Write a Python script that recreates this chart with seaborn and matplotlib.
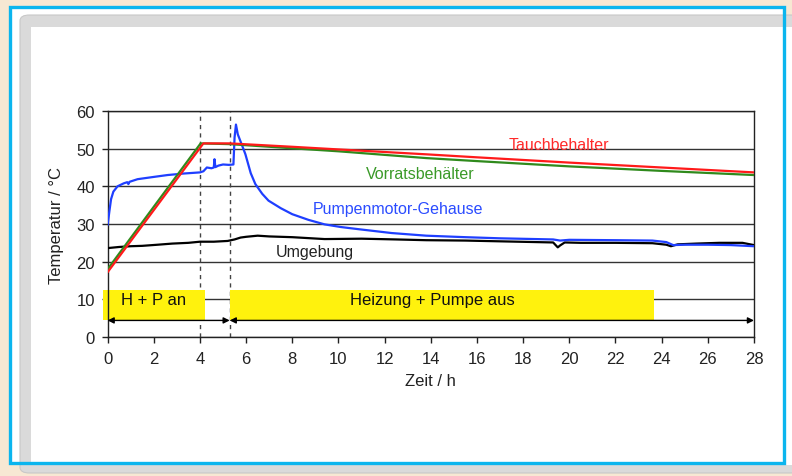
import matplotlib
matplotlib.use("Agg")
import matplotlib.pyplot as plt
import seaborn as sns
from matplotlib.patches import Rectangle, FancyBboxPatch

t_tauch = [0, 4.15, 5.3, 8, 10, 13.8, 16, 20, 24, 28]
v_tauch = [17.2, 51.4, 51.4, 50.5, 49.8, 48.5, 47.7, 46.3, 45.0, 43.7]

t_vorrat = [0, 4.03, 5.3, 8, 10, 13.8, 16, 20, 24, 28]
v_vorrat = [18.0, 51.4, 51.2, 50.1, 49.3, 47.5, 46.7, 45.3, 44.1, 43.0]

t_pumpe = [0, 0.08, 0.15, 0.25, 0.43, 0.7, 0.85, 0.9, 0.95, 1.3, 2.0, 2.6,
           3.3, 4.0, 4.15, 4.3, 4.5, 4.6, 4.63, 4.67, 4.8, 5.0, 5.25, 5.45,
           5.5, 5.56, 5.64, 5.86, 5.97, 6.2, 6.4, 6.7, 6.97, 7.5, 8.0, 8.7,
           9.4, 10.1, 10.9, 12.3, 13.8, 15.5, 17.0, 19.3, 19.6, 20.0, 22.0,
           23.6, 24.2, 24.5, 25.0, 26.0, 27.0, 28.0]
v_pumpe = [29.7, 33.5, 36.6, 38.6, 40.0, 40.8, 41.1, 40.6, 41.2, 41.9, 42.5, 43.0,
           43.4, 43.7, 44.0, 45.0, 44.8, 45.0, 47.2, 45.1, 45.5, 45.8, 45.7, 45.8,
           53.0, 56.4, 53.8, 50.3, 48.5, 43.5, 40.6, 38.0, 36.2, 34.2, 32.6, 31.1,
           29.9, 29.2, 28.6, 27.6, 26.9, 26.5, 26.2, 25.9, 25.6, 25.8, 25.7,
           25.6, 25.2, 24.4, 24.5, 24.5, 24.4, 24.1]

t_umgebung = [0, 0.5, 1.0, 1.5, 2.17, 2.8, 3.5, 4.0, 4.6, 5.2, 5.5, 5.76, 6.0,
              6.5, 7.0, 8.0, 9.4, 11.0, 12.5, 13.8, 15.5, 17.0, 19.3, 19.5,
              19.6, 19.8, 20.5, 22.0, 23.6, 24.2, 24.4, 24.7, 25.5, 26.5, 27.5, 28.0]
v_umgebung = [23.6, 23.9, 24.1, 24.2, 24.5, 24.8, 25.0, 25.3, 25.3, 25.5, 25.9, 26.4, 26.6,
              26.9, 26.7, 26.5, 26.0, 26.1, 25.9, 25.7, 25.6, 25.4, 25.1, 23.8,
              24.3, 25.1, 25.0, 25.0, 24.9, 24.5, 24.1, 24.6, 24.8, 25.0, 25.0, 24.4]

# Betriebsphasen
phasen_text = ["H + P an", "Heizung + Pumpe aus"]
phasen_start = [-0.18, 5.29]
phasen_ende = [4.2, 23.66]
phasen_textpos = [2.0, 14.05]
pfeil_grenzen = [0, 5.29, 28]
trennlinien = [4.0, 5.29]

sns.set_style("white")
plt.rcParams['font.family'] = ['Liberation Sans', 'DejaVu Sans']

W, H = 792, 477
fig = plt.figure(figsize=(W / 100, H / 100), dpi=100, facecolor='#f7e8d3')


def px(x0, y0, x1, y1):
    # Pixel-Rechteck (y von oben) -> Figurkoordinaten
    return (x0 / W, 1 - y1 / H), (x1 - x0) / W, (y1 - y0) / H


# Rahmen wie im Original
xy, w, h = px(10, 8, 784, 464)
fig.add_artist(Rectangle(xy, w, h, transform=fig.transFigure, facecolor='white',
                         edgecolor='none', zorder=-5))
xy, w, h = px(20, 16, 800, 474)
fig.add_artist(FancyBboxPatch(xy, w, h, boxstyle="round,pad=0,rounding_size=0.012",
                              transform=fig.transFigure, facecolor='#dadada',
                              edgecolor='#c8c8c8', lw=0.8, zorder=-4))
xy, w, h = px(31, 28, 800, 466)
fig.add_artist(Rectangle(xy, w, h, transform=fig.transFigure, facecolor='white',
                         edgecolor='none', zorder=-3))
xy, w, h = px(10, 8, 784, 464)
fig.add_artist(Rectangle(xy, w, h, transform=fig.transFigure, facecolor='none',
                         edgecolor='#0bb5ee', lw=2.4, zorder=-2))

ax = fig.add_axes([107.6 / W, 1 - 338 / H, (754 - 107.6) / W, (338 - 112) / H])
ax.set_facecolor('none')

# Trennlinien
for tx in trennlinien:
    ax.axvline(tx, color='#444444', lw=1, ls=(0, (3, 3)), zorder=1)

# Kurven
sns.lineplot(x=t_umgebung, y=v_umgebung, ax=ax, color='black', lw=1.6, zorder=3)
sns.lineplot(x=t_pumpe, y=v_pumpe, ax=ax, color='#1f3fff', lw=1.6, zorder=4)
sns.lineplot(x=t_vorrat, y=v_vorrat, ax=ax, color='#2f8a1c', lw=1.6, zorder=5)
sns.lineplot(x=t_tauch, y=v_tauch, ax=ax, color='#ff1a1a', lw=1.6, zorder=5)

# Beschriftungen der Kurven
ax.text(19.55, 51.2, "Tauchbehalter", color='#ff2a2a', fontsize=11.5, ha='center', va='center')
ax.text(13.55, 43.5, "Vorratsbehälter", color='#3a9a28', fontsize=11.5, ha='center', va='center')
ax.text(12.58, 34.0, "Pumpenmotor-Gehause", color='#2b4cff', fontsize=11.5, ha='center', va='center')
ax.text(8.98, 22.8, "Umgebung", color='#222222', fontsize=11.5, ha='center', va='center')

# Phasen-Kästen und Pfeile
for txt, a, b, tp in zip(phasen_text, phasen_start, phasen_ende, phasen_textpos):
    ax.add_patch(Rectangle((a, 4.6), b - a, 7.9, facecolor='#fff20d', edgecolor='none',
                           zorder=2, clip_on=False))
    ax.text(tp, 9.9, txt, fontsize=12, ha='center', va='center', color='#111111', zorder=6)
for a, b in zip(pfeil_grenzen[:-1], pfeil_grenzen[1:]):
    ax.annotate("", xy=(b, 4.4), xytext=(a, 4.4),
                arrowprops=dict(arrowstyle='<|-|>', color='black', lw=1,
                                mutation_scale=9, shrinkA=0, shrinkB=0), zorder=6)

ax.set_xlim(0, 28)
ax.set_ylim(0, 60)
ax.set_xticks(range(0, 29, 2))
ax.set_yticks(range(0, 61, 10))
ax.yaxis.grid(True, color='#333333', lw=1)
ax.set_axisbelow(True)
for s in ax.spines.values():
    s.set_color('#222222')
    s.set_linewidth(1)
ax.tick_params(axis='both', direction='out', length=4, width=1, color='#222222',
               labelsize=12, labelcolor='#222222', bottom=True, left=True)
ax.tick_params(axis='x', pad=6)
ax.tick_params(axis='y', pad=5)
ax.set_xlabel("Zeit / h", fontsize=12, color='#222222', labelpad=5)
ax.set_ylabel("Temperatur / °C", fontsize=12, color='#222222', labelpad=9)

plt.savefig("out.png", dpi=100, facecolor=fig.get_facecolor())
plt.close()
